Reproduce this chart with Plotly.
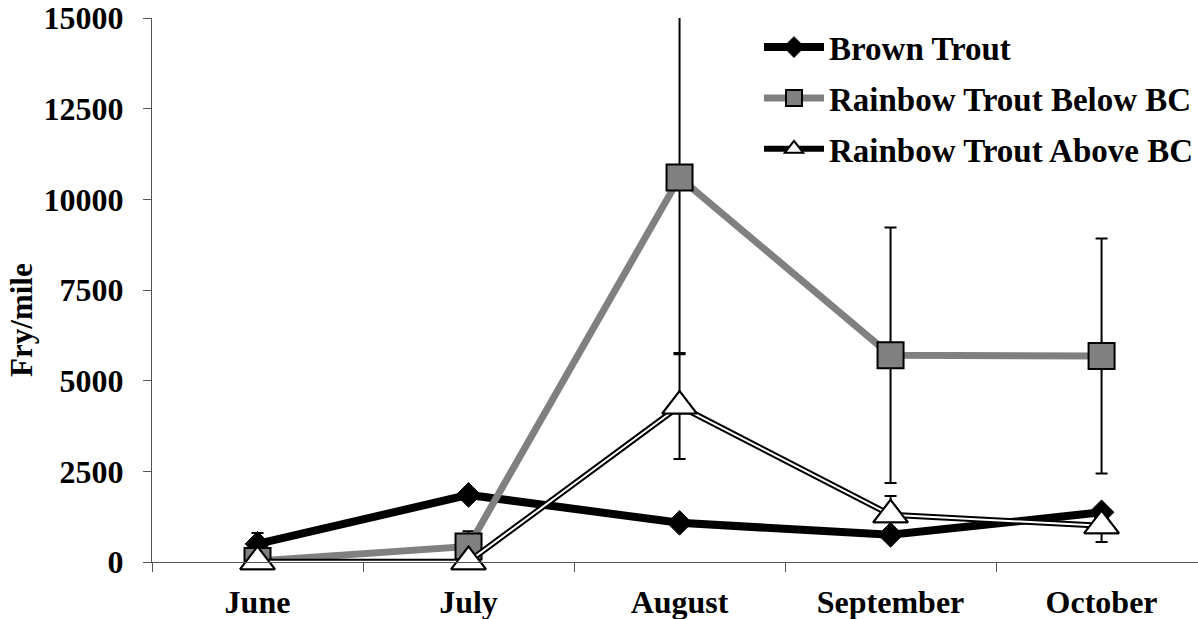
import plotly.graph_objects as go

months = ["June", "July", "August", "September", "October"]
brown = [500, 1850, 1080, 750, 1370]
brown_err = [300, 150, 100, 100, 100]
rb_below = [30, 430, 10600, 5700, 5680]
rb_below_err = [50, 420, 4870, 3520, 3240]
rb_above = [10, 10, 4300, 1300, 1000]
rb_above_err = [0, 0, 1460, 520, 450]
y_ticks = [0, 2500, 5000, 7500, 10000, 12500, 15000]

FONT = "Liberation Serif, Times New Roman, serif"
err_style = dict(type="data", color="black", thickness=2, width=6, visible=True)

fig = go.Figure()

fig.add_trace(go.Scatter(
    x=months, y=brown, name="Brown Trout", mode="lines+markers",
    line=dict(color="black", width=8),
    marker=dict(symbol="diamond", size=19, color="black", line=dict(color="black", width=1)),
    error_y=dict(array=brown_err, **err_style),
    legendgroup="a",
))
fig.add_trace(go.Scatter(
    x=months, y=rb_below, name="Rainbow Trout Below BC", mode="lines+markers",
    line=dict(color="#808080", width=7),
    marker=dict(symbol="square", size=26, color="#808080", line=dict(color="black", width=2)),
    error_y=dict(array=rb_below_err, **err_style),
    legendgroup="b",
))
fig.add_trace(go.Scatter(
    x=months, y=rb_above, name="Rainbow Trout Above BC", mode="lines+markers",
    line=dict(color="black", width=6), cliponaxis=False,
    marker=dict(symbol="triangle-up", size=30, color="white", line=dict(color="black", width=2)),
    legendgroup="c",
))
fig.add_trace(go.Scatter(
    x=months, y=rb_above, mode="lines", showlegend=False,
    line=dict(color="white", width=2), hoverinfo="skip", legendgroup="c",
))
fig.add_trace(go.Scatter(
    x=months, y=rb_above, mode="markers", showlegend=False, cliponaxis=False,
    marker=dict(symbol="triangle-up", size=30, color="white", line=dict(color="black", width=2)),
    error_y=dict(array=rb_above_err, **err_style),
    legendgroup="c",
))

fig.update_layout(
    width=1198, height=619,
    margin=dict(l=152, r=0, t=18, b=57),
    plot_bgcolor="white", paper_bgcolor="white",
    font=dict(family=FONT, size=30, color="black", weight="bold"),
    showlegend=True,
    legend=dict(
        x=1.0, y=0.998, xanchor="right", yanchor="top",
        font=dict(family=FONT, size=33, color="black", weight="bold"),
        bgcolor="rgba(0,0,0,0)", traceorder="grouped", tracegroupgap=5,
        itemwidth=60,
    ),
    xaxis=dict(
        type="category", range=[-0.5, 4.457],
        showline=True, linecolor="#555555", linewidth=1,
        ticks="outside", ticklen=9, tickcolor="#555555", tickson="boundaries",
        showgrid=False, zeroline=False, ticklabelstandoff=12,
        tickfont=dict(family=FONT, size=32, color="black", weight="bold"),
    ),
    yaxis=dict(
        range=[0, 15000], tickvals=y_ticks, ticktext=[str(v) for v in y_ticks],
        showline=True, linecolor="#555555", linewidth=1,
        ticks="outside", ticklen=8, tickcolor="#555555",
        showgrid=False, zeroline=False, ticklabelstandoff=13,
        tickfont=dict(family=FONT, size=32, color="black", weight="bold"),
    ),
    annotations=[dict(
        text="Fry/mile", textangle=-90, showarrow=False,
        xref="paper", yref="paper", x=-0.1243, y=0.445,
        xanchor="center", yanchor="middle",
        font=dict(family=FONT, size=31, color="black", weight="bold"),
    )],
)

fig.write_html("out.html", config={"displayModeBar": False},
               post_script="document.body.style.margin='0';document.body.style.overflow='hidden';")
